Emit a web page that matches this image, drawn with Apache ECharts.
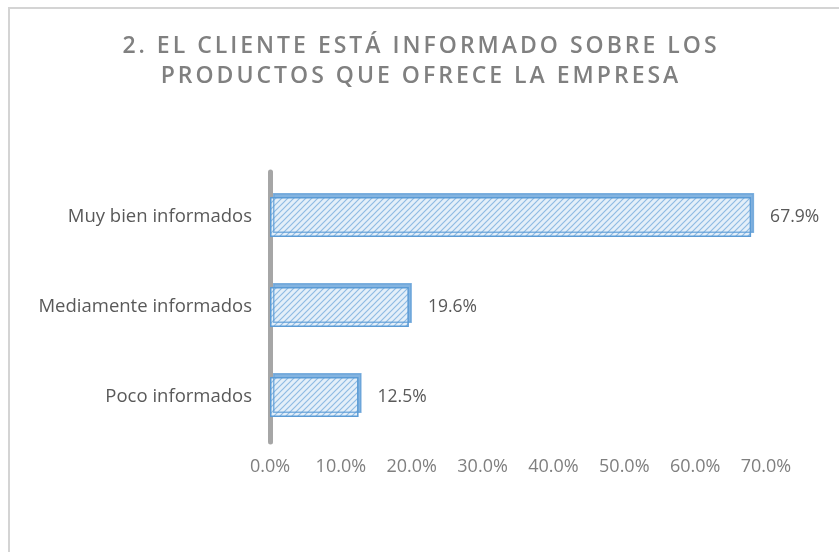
<!DOCTYPE html>
<html>
<head>
<meta charset="utf-8">
<script src="https://cdn.jsdelivr.net/npm/echarts@6/dist/echarts.min.js"></script>
<style>
  html, body { margin: 0; padding: 0; background: #fff; }
  #chart { width: 839px; height: 552px; }
</style>
</head>
<body>
<div id="chart"></div>
<script>
// datos del grafico
const titleLines = ['2. EL CLIENTE ESTÁ INFORMADO SOBRE LOS', 'PRODUCTOS QUE OFRECE LA EMPRESA']
const categories = ['Poco informados', 'Mediamente informados', 'Muy bien informados']
const values = [12.5, 19.6, 67.9]
const tickStep = 10
const tickMax = 70

// relleno rayado como en excel
function hatch() {
  const c = document.createElement('canvas')
  c.width = 6
  c.height = 6
  const ctx = c.getContext('2d')
  ctx.fillStyle = '#e4eff9'
  ctx.fillRect(0, 0, 6, 6)
  ctx.strokeStyle = '#8fbbe3'
  ctx.lineWidth = 1.2
  ctx.beginPath()
  ctx.moveTo(-1, 7); ctx.lineTo(7, -1)
  ctx.moveTo(-1, 1); ctx.lineTo(1, -1)
  ctx.moveTo(5, 7); ctx.lineTo(7, 5)
  ctx.stroke()
  return c
}

// espaciado entre letras del titulo (cada letra es un fragmento rich)
const spaced = titleLines
  .map(l => l.split('').map(ch => '{c|' + ch + '}').join(''))
  .join('\n')

const chart = echarts.init(document.getElementById('chart'))
chart.setOption({
  animation: false,
  backgroundColor: '#fff',
  title: {
    text: spaced,
    left: 'center',
    top: 26,
    textStyle: {
      rich: {
        c: {
          fontFamily: 'Open Sans',
          fontSize: 23,
          fontWeight: 600,
          color: '#808080',
          lineHeight: 30,
          padding: [0, 1.5]
        }
      }
    }
  },
  graphic: [{
    type: 'polyline',
    shape: { points: [[9, 552], [9, 8], [839, 8]] },
    style: { stroke: '#d4d4d4', lineWidth: 2, fill: null },
    silent: true
  }],
  grid: { left: 270, right: 73, top: 172, bottom: 110 },
  xAxis: {
    type: 'value',
    min: 0,
    max: tickMax,
    interval: tickStep,
    axisLine: { show: false },
    axisTick: { show: false },
    splitLine: { show: false },
    axisLabel: {
      margin: 16,
      fontFamily: 'Open Sans',
      fontSize: 18,
      color: '#7f7f7f',
      formatter: v => v.toFixed(1) + '%'
    }
  },
  yAxis: {
    type: 'category',
    data: categories,
    axisLine: { lineStyle: { color: '#a6a6a6', width: 5 } },
    axisTick: { show: false },
    axisLabel: {
      margin: 18,
      fontFamily: 'Open Sans',
      fontSize: 18.5,
      color: '#595959'
    }
  },
  series: [{
    type: 'bar',
    data: values,
    barWidth: 40,
    itemStyle: {
      color: { image: hatch(), repeat: 'repeat' },
      borderColor: '#5b9bd5',
      borderWidth: 1.5,
      shadowColor: 'rgba(91,155,213,0.75)',
      shadowOffsetX: 3,
      shadowOffsetY: -4,
      shadowBlur: 0
    },
    label: {
      show: true,
      position: 'right',
      distance: 19,
      fontFamily: 'Open Sans',
      fontSize: 17.5,
      color: '#595959',
      formatter: p => p.value.toFixed(1) + '%'
    }
  }]
})
</script>
</body>
</html>
